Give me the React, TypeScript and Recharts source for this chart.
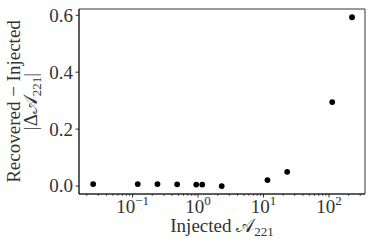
import { ScatterChart, Scatter, XAxis, YAxis, Label, ReferenceArea } from 'recharts';

// Injected amplitude vs |recovered - injected|
const injected = [0.025, 0.12, 0.24, 0.48, 0.94, 1.16, 2.3, 11.5, 23, 112, 225];
const deltaA = [0.007, 0.007, 0.007, 0.006, 0.005, 0.005, 0.0, 0.021, 0.05, 0.295, 0.593];

const MAJOR_X = [0.1, 1, 10, 100];
const MAJOR_EXP = ['\u22121', '0', '1', '2'];
const MINOR_X = [
  0.02, 0.03, 0.04, 0.05, 0.06, 0.07, 0.08, 0.09,
  0.2, 0.3, 0.4, 0.5, 0.6, 0.7, 0.8, 0.9,
  2, 3, 4, 5, 6, 7, 8, 9,
  20, 30, 40, 50, 60, 70, 80, 90,
  200, 300,
];
const Y_TICKS = [0, 0.2, 0.4, 0.6];
const Y_LABELS = ['0.0', '0.2', '0.4', '0.6'];

const X_DOMAIN = [0.0152, 355];
const Y_DOMAIN = [-0.028, 0.622];

const points = injected.map((x, i) => ({ x, y: deltaA[i] }));

const FONT = '"Liberation Serif", serif';
const TXT = { fontFamily: FONT };
const INK = '#333';
const CAL_A = '\u{1D49C}';

function XTick(props: any) {
  const { x, y, payload } = props;
  const i = MAJOR_X.indexOf(payload.value);
  if (i < 0) {
    return <line x1={x} x2={x} y1={y} y2={y + 2} stroke="#000" strokeWidth={0.6} />;
  }
  return (
    <g>
      <line x1={x} x2={x} y1={y} y2={y + 3.5} stroke="#000" strokeWidth={0.8} />
      <text x={x} y={y + 19} textAnchor="middle" style={TXT} fontSize={19} fill={INK}>
        10
        <tspan dy={-8} fontSize={13}>{MAJOR_EXP[i]}</tspan>
      </text>
    </g>
  );
}

function YTick(props: any) {
  const { x, y, payload } = props;
  const i = Y_TICKS.indexOf(payload.value);
  return (
    <g>
      <line x1={x - 3.5} x2={x} y1={y} y2={y} stroke="#000" strokeWidth={0.8} />
      <text x={x - 6} y={y} dy="0.34em" textAnchor="end" style={TXT} fontSize={19} fill={INK}>
        {Y_LABELS[i]}
      </text>
    </g>
  );
}

function XLabel(props: any) {
  const vb = props.viewBox;
  const cx = vb.x + vb.width / 2;
  return (
    <text x={cx} y={232} textAnchor="middle" style={TXT} fontSize={19} fill={INK}>
      Injected {CAL_A}
      <tspan dy={4} fontSize={13}>221</tspan>
    </text>
  );
}

function YLabel(props: any) {
  const vb = props.viewBox;
  const cy = vb.y + vb.height / 2;
  return (
    <g style={TXT} fontSize={19} fill={INK}>
      <text x={20} y={cy} textAnchor="middle" transform={`rotate(-90, 20, ${cy})`}>
        Recovered {'\u2212'} Injected
      </text>
      <text x={37} y={cy} textAnchor="middle" transform={`rotate(-90, 37, ${cy})`}>
        |{'\u0394'}{CAL_A}
        <tspan dy={4} fontSize={13}>221</tspan>
        <tspan dy={-4}>|</tspan>
      </text>
    </g>
  );
}

const Dot = (props: any) => <circle cx={props.cx} cy={props.cy} r={2.9} fill="#000" />;

export default function App() {
  return (
    <div style={{ position: 'absolute', left: 0, top: 0, background: '#fff' }}>
      <ScatterChart width={374} height={245} margin={{ top: 9, right: 9, left: 0, bottom: 0 }}>
        <XAxis
          dataKey="x"
          type="number"
          scale="log"
          domain={X_DOMAIN}
          allowDataOverflow
          ticks={[...MINOR_X, ...MAJOR_X]}
          interval={0}
          height={51}
          tickSize={0}
          tickMargin={0}
          tickLine={false}
          tick={XTick}
          axisLine={{ stroke: '#000', strokeWidth: 0.8 }}
        >
          <Label content={XLabel} />
        </XAxis>
        <YAxis
          dataKey="y"
          type="number"
          domain={Y_DOMAIN}
          allowDataOverflow
          ticks={Y_TICKS}
          interval={0}
          width={79}
          tickSize={0}
          tickMargin={0}
          tickLine={false}
          tick={YTick}
          axisLine={{ stroke: '#000', strokeWidth: 0.8 }}
        >
          <Label content={YLabel} />
        </YAxis>
        <ReferenceArea
          x1={X_DOMAIN[0]}
          x2={X_DOMAIN[1]}
          y1={Y_DOMAIN[0]}
          y2={Y_DOMAIN[1]}
          fill="none"
          fillOpacity={0}
          stroke="#000"
          strokeWidth={0.8}
          ifOverflow="visible"
        />
        <Scatter data={points} fill="#000" shape={Dot} isAnimationActive={false} />
      </ScatterChart>
    </div>
  );
}
